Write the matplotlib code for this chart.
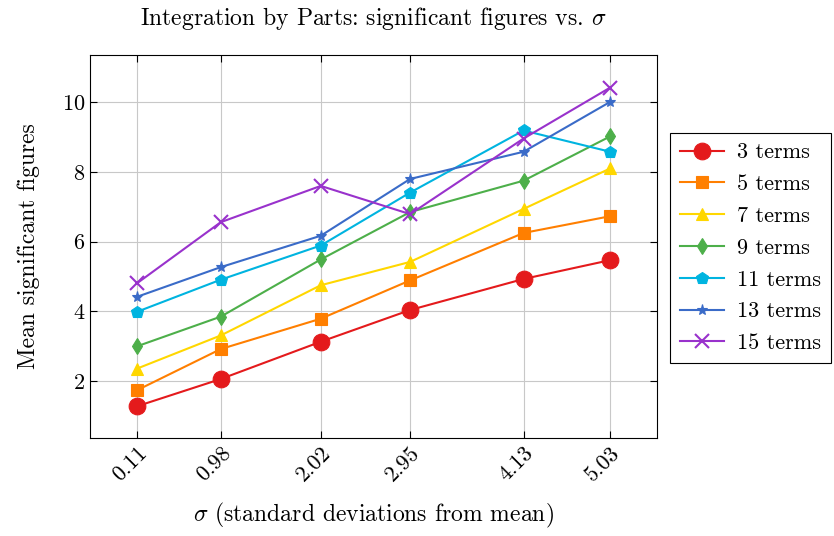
import numpy as np
from matplotlib import pyplot as plt

plt.rcParams['font.family'] = 'serif'
plt.rcParams['font.serif'] = ['cmr10', 'DejaVu Serif']
plt.rcParams['mathtext.fontset'] = 'cm'
plt.rcParams['axes.formatter.use_mathtext'] = True

sigma = [0.11, 0.98, 2.02, 2.95, 4.13, 5.03]
sigma_labels = ['0.11', '0.98', '2.02', '2.95', '4.13', '5.03']

terms3 = [1.28, 2.06, 3.13, 4.04, 4.93, 5.47]
terms5 = [1.74, 2.92, 3.79, 4.89, 6.25, 6.73]
terms7 = [2.36, 3.31, 4.75, 5.42, 6.94, 8.10]
terms9 = [3.00, 3.85, 5.49, 6.85, 7.75, 9.02]
terms11 = [3.99, 4.91, 5.89, 7.41, 9.19, 8.58]
terms13 = [4.42, 5.27, 6.17, 7.80, 8.58, 10.01]
terms15 = [4.81, 6.56, 7.60, 6.79, 8.96, 10.42]

series = [
    ('3 terms', terms3, '#e41a1c', 'o', 12),
    ('5 terms', terms5, '#ff7f00', 's', 9),
    ('7 terms', terms7, '#ffd700', '^', 9),
    ('9 terms', terms9, '#4daf4a', 'd', 8),
    ('11 terms', terms11, '#00b4e0', 'p', 9),
    ('13 terms', terms13, '#3a6bc8', '*', 8),
    ('15 terms', terms15, '#9932cc', 'x', 10),
]

fig = plt.figure(figsize=(8.34, 5.36), dpi=100)
ax = fig.add_axes([0.108, 0.183, 0.68, 0.714])

for name, vals, col, mk, ms in series:
    ax.plot(sigma, vals, color=col, marker=mk, markersize=ms, linewidth=1.5,
            markeredgewidth=1.5 if mk == 'x' else 0.8, label=name)

ax.set_xlim(-0.38, 5.52)
ax.set_ylim(0.37, 11.35)
ax.set_xticks(sigma)
ax.set_xticklabels(sigma_labels, rotation=45, ha='right', rotation_mode='anchor')
ax.set_yticks([2, 4, 6, 8, 10])
ax.grid(True, color='#c8c8c8', linewidth=0.8)
ax.set_axisbelow(True)
ax.tick_params(direction='in', top=True, right=True, labelsize=16, length=5)
for s in ax.spines.values():
    s.set_linewidth(0.8)

ax.set_title(r'Integration by Parts: significant figures vs. $\sigma$', fontsize=17, pad=22)
ax.set_xlabel(r'$\sigma$ (standard deviations from mean)', fontsize=17, labelpad=12)
ax.set_ylabel('Mean significant figures', fontsize=17, labelpad=16)

leg = fig.legend(loc='upper left', bbox_to_anchor=(0.803, 0.752), fontsize=16,
                 fancybox=False, edgecolor='black', framealpha=1, borderaxespad=0,
                 handlelength=2.0, handletextpad=0.6, labelspacing=0.55, borderpad=0.45)
leg.get_frame().set_linewidth(0.8)

plt.savefig('out.png', dpi=100)
